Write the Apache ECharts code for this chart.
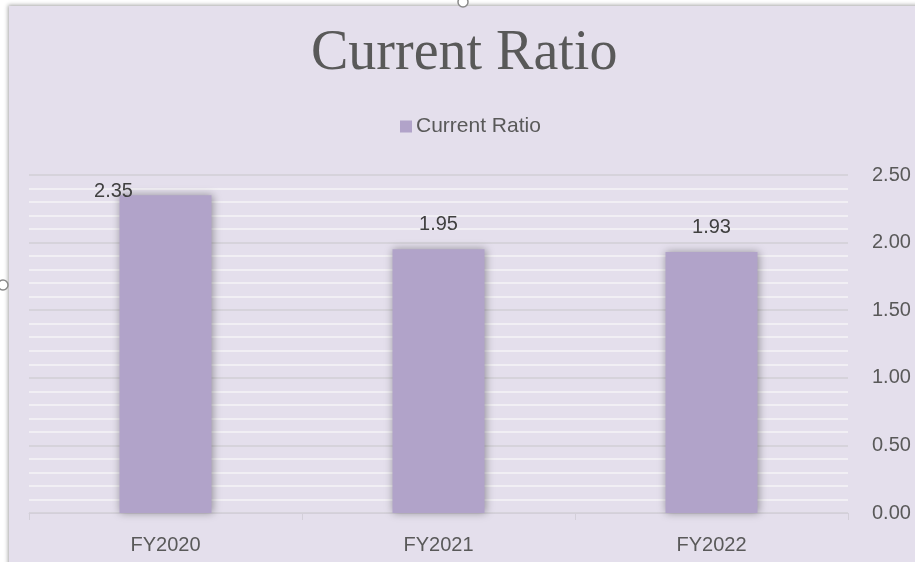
<!DOCTYPE html>
<html>
<head>
<meta charset="utf-8">
<script src="https://cdn.jsdelivr.net/npm/echarts@6/dist/echarts.min.js"></script>
<style>
  html, body { margin: 0; padding: 0; background: #fff; }
  #chart { width: 915px; height: 562px; }
</style>
</head>
<body>
<div id="chart"></div>
<script>
// data
var categories = ["FY2020", "FY2021", "FY2022"];
var ratioValues = [2.35, 1.95, 1.93];
var seriesName = "Current Ratio";

var textColor = "#595959";
var chart = echarts.init(document.getElementById("chart"));

chart.setOption({
  backgroundColor: "#fff",
  graphic: [
    {
      // chart area panel with its edge shadow
      type: "rect",
      z: -10,
      shape: { x: 9, y: 6, width: 920, height: 570 },
      style: {
        fill: "#E4DFEC",
        shadowBlur: 4,
        shadowColor: "rgba(0,0,0,0.35)",
        shadowOffsetX: -1,
        shadowOffsetY: -1
      }
    },
    {
      type: "circle",
      z: 100,
      shape: { cx: 463, cy: 2, r: 5 },
      style: { fill: "#fff", stroke: "#8a8a8a", lineWidth: 1.5 }
    },
    {
      type: "circle",
      z: 100,
      shape: { cx: 3, cy: 285, r: 5 },
      style: { fill: "#fff", stroke: "#8a8a8a", lineWidth: 1.5 }
    }
  ],
  title: {
    text: "Current Ratio",
    left: 306,
    top: 21,
    textStyle: {
      fontFamily: "Liberation Serif",
      fontSize: 56,
      fontWeight: "normal",
      color: textColor
    }
  },
  legend: {
    data: [seriesName],
    left: 395,
    top: 111,
    itemWidth: 12,
    itemHeight: 12,
    itemGap: 6,
    icon: "rect",
    textStyle: {
      fontFamily: "Liberation Sans",
      fontSize: 21,
      color: textColor,
      padding: [0, 0, 0, -1]
    }
  },
  grid: { left: 29, right: 67, top: 175, bottom: 49 },
  xAxis: {
    type: "category",
    data: categories,
    boundaryGap: true,
    axisLine: { lineStyle: { color: "#D3CFD9", width: 1 } },
    axisTick: { show: true, length: 7, lineStyle: { color: "#D3CFD9" } },
    axisLabel: {
      margin: 22,
      fontFamily: "Liberation Sans",
      fontSize: 20,
      color: textColor
    }
  },
  yAxis: {
    type: "value",
    position: "right",
    min: 0,
    max: 2.5,
    interval: 0.5,
    axisLine: { show: false },
    axisTick: { show: false },
    axisLabel: {
      margin: 24,
      fontFamily: "Liberation Sans",
      fontSize: 20,
      color: textColor,
      formatter: function (v) { return v.toFixed(2); }
    },
    splitLine: { show: true, lineStyle: { color: "#D6D3DB", width: 2 } },
    minorTick: { show: false, splitNumber: 5 },
    minorSplitLine: { show: true, lineStyle: { color: "#F1EFF4", width: 2 } }
  },
  series: [
    {
      name: seriesName,
      type: "bar",
      barWidth: "33.7%",
      data: ratioValues.map(function (v, i) {
        var item = { value: v };
        // the first label sits to the left of its bar in the original
        if (i === 0) {
          item.label = { offset: [-52, 21] };
        }
        return item;
      }),
      itemStyle: {
        color: "#B1A3C9",
        shadowBlur: 8,
        shadowColor: "rgba(0,0,0,0.35)",
        shadowOffsetX: 1
      },
      label: {
        show: true,
        position: "top",
        distance: 15,
        fontFamily: "Liberation Sans",
        fontSize: 20,
        color: "#404040",
        formatter: function (p) { return p.value.toFixed(2); }
      }
    }
  ]
});

window.onresize = function () { chart.resize(); };
</script>
</body>
</html>
